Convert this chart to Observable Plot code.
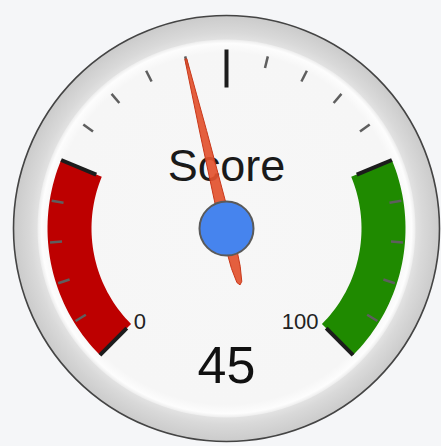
<!DOCTYPE html>
<html><head><meta charset="utf-8">
<script src="https://cdn.jsdelivr.net/npm/d3@7"></script>
<script src="https://cdn.jsdelivr.net/npm/@observablehq/plot@0.6"></script>
<style>html,body{margin:0;padding:0;background:#f5f6f8;} #chart svg{display:block;}</style>
</head><body><div id="chart"></div>
<script>
// ---- data ----
const gaugeLabel = "Score";
const gaugeValue = [45];
const scaleMin = 0;
const scaleMax = 100;
const bandFrom = [0, 75];
const bandTo = [25, 100];
const bandColor = ["#bd0000", "#1f8a00"];
const majorTicks = [0, 25, 50, 75, 100];
const minorTicks = [5, 10, 15, 20, 30, 35, 40, 45, 55, 60, 65, 70, 80, 85, 90, 95];
const tickLabelValues = [0, 100];
const tickLabels = ["0", "100"];

// ---- geometry (styles) ----
const W = 441, H = 446, CX = 226, CY = 228;
const R_OUTER = 213, R_FACE = 189;
const R_BAND_OUT = 179, R_BAND_IN = 135;
const ang = v => (-135 + 270 * (v - scaleMin) / (scaleMax - scaleMin)) * Math.PI / 180;
const pos = (v, r, t = 0) => { const a = ang(v); return {x: r * Math.sin(a) + t * Math.cos(a), y: r * Math.cos(a) - t * Math.sin(a)}; };

const bandPts = [];
bandFrom.forEach((f, i) => {
  const t = bandTo[i], n = 40;
  for (let k = 0; k <= n; k++) bandPts.push({...pos(f + (t - f) * k / n, R_BAND_OUT), band: i});
  for (let k = n; k >= 0; k--) bandPts.push({...pos(f + (t - f) * k / n, R_BAND_IN), band: i});
});

const majorLinks = majorTicks.map(v => ({a: pos(v, 179), b: pos(v, 141)}));
const minorLinks = minorTicks.map(v => ({a: pos(v, 177), b: pos(v, 165)}));
const startLabels = [{...pos(tickLabelValues[0], 137), text: tickLabels[0]}];
const endLabels = [{...pos(tickLabelValues[1], 137), text: tickLabels[1]}];

const needleShape = [[174, 1], [100, 3.5], [0, 6], [-40, 4.5], [-55, 2.5], [-58, 0], [-55, -2.5], [-40, -4.5], [0, -6], [100, -3.5], [174, -1]];
const needle = gaugeValue.flatMap((v, j) => needleShape.map(([r, t]) => ({...pos(v, r, t), id: j})));

const FONT = "Arial, 'Liberation Sans', Helvetica, sans-serif";
const link = (data, o) => Plot.link(data, {x1: d => d.a.x, y1: d => d.a.y, x2: d => d.b.x, y2: d => d.b.y, strokeLinecap: "butt", ...o});

const chart = Plot.plot({
  width: W, height: H,
  margin: 0,
  x: {domain: [-CX, W - CX], range: [0, W], axis: null},
  y: {domain: [CY - H, CY], range: [H, 0], axis: null},
  style: {background: "#f5f6f8", fontFamily: FONT, overflow: "visible"},
  marks: [
    Plot.dot([{x: 0, y: 0}], {x: "x", y: "y", r: R_OUTER, fill: "url(#ringGrad)", stroke: "#444", strokeWidth: 1.6}),
    Plot.dot([{x: 0, y: 0}], {x: "x", y: "y", r: R_FACE, fill: "url(#faceGrad)"}),
    Plot.line(bandPts, {x: "x", y: "y", z: "band", fill: d => bandColor[d.band], stroke: "none", curve: "linear-closed"}),
    link(minorLinks, {stroke: "#5e5e5e", strokeWidth: 2.5}),
    link(majorLinks, {stroke: "#1c1c1c", strokeWidth: 4}),
    Plot.text(startLabels, {x: "x", y: "y", text: "text", textAnchor: "start", dx: 4, dy: -3, fontSize: 22, fill: "#222", lineAnchor: "middle"}),
    Plot.text(endLabels, {x: "x", y: "y", text: "text", textAnchor: "end", dx: -5, dy: -3, fontSize: 22, fill: "#222", lineAnchor: "middle"}),
    Plot.text([gaugeLabel], {x: () => 0, y: () => 62, text: d => d, fontSize: 45, fill: "#1a1a1a", textAnchor: "middle", lineAnchor: "middle"}),
    Plot.line(needle, {x: "x", y: "y", z: "id", fill: "#e2512e", stroke: "#c9381a", strokeWidth: 1, fillOpacity: 0.92, curve: "linear-closed"}),
    Plot.dot([{x: 0, y: 0}], {x: "x", y: "y", r: 27, fill: "#4684ee", stroke: "#5a5a5a", strokeWidth: 2}),
    Plot.text(gaugeValue, {x: () => 0, y: () => -138, text: d => String(d), fontSize: 52, fill: "#111", textAnchor: "middle", lineAnchor: "middle"})
  ]
});

const svg = d3.select(chart);
const defs = svg.insert("defs", ":first-child");
const rg = defs.append("radialGradient").attr("id", "ringGrad").attr("cx", 0.5).attr("cy", 0.5).attr("r", 0.5);
[[0, "#eeeeee"], [0.88, "#e4e4e4"], [0.92, "#d9d9d9"], [1, "#cbcbcb"]].forEach(([o, c]) => rg.append("stop").attr("offset", o).attr("stop-color", c));
const fg = defs.append("radialGradient").attr("id", "faceGrad").attr("cx", 0.5).attr("cy", 0.5).attr("r", 0.5);
[[0, "#f7f7f7"], [0.93, "#f6f6f6"], [0.98, "#fdfdfd"], [1, "#ededed"]].forEach(([o, c]) => fg.append("stop").attr("offset", o).attr("stop-color", c));

document.getElementById("chart").appendChild(chart);
</script>
</body></html>
